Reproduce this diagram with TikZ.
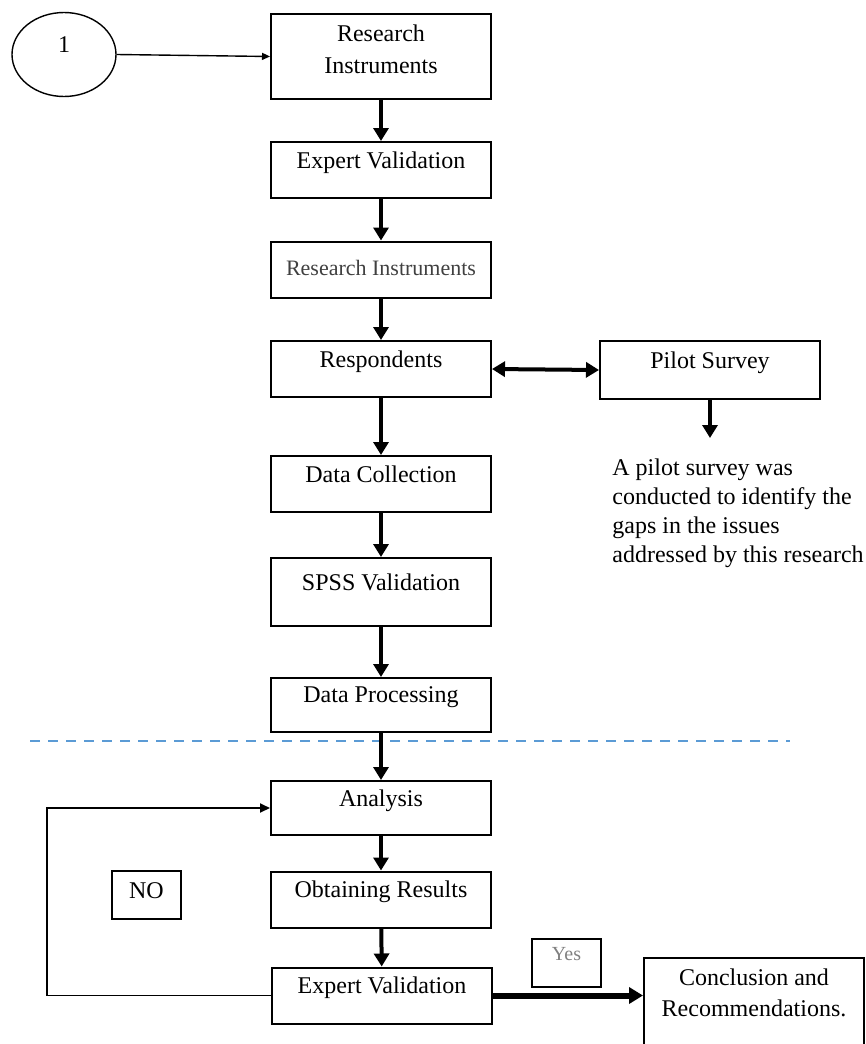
\documentclass[tikz,border=0pt]{standalone}
\usepackage{fontspec}
\setmainfont{Liberation Serif}
\usepackage{pgf,tikz}
\usetikzlibrary{%
  arrows.meta,
  shapes.geometric
}
\definecolor{tiret}{RGB}{91,155,213}

\begin{document}
\begin{tikzpicture}[
  x=0.5pt, y=-0.5pt,
  >={Triangle[length=6.5pt, width=7.5pt]},
  etape/.style={draw, line width=1pt, minimum width=110pt, minimum height=28pt,
                text depth=10pt, align=center, font=\fontsize{12}{16}\selectfont},
  etiquette/.style={draw, line width=0.8pt, minimum width=34.5pt, minimum height=24pt},
  fleche/.style={->, line width=2pt},
  fin/.style={-{Triangle[length=4pt, width=3.5pt]}, line width=0.7pt},
]
  \useasboundingbox (0.0, 0.0) rectangle (866.0, 1044.0) ;
  \clip (0.0, 0.0) rectangle (866.0, 1044.0) ;

  % ligne de separation
  \draw [tiret, line width=1pt, dash pattern=on 5pt off 4pt]
        (30.0, 741.0) -- (790.0, 741.0) ;

  % depart
  \node (depart) [ellipse, draw, line width=0.7pt, minimum width=52pt,
                  minimum height=42pt, text depth=10pt,
                  font=\fontsize{12}{14}\selectfont] at (64.0, 54.5) {1} ;

  % colonne principale
  \node (instr1) [etape, minimum height=42.5pt, text depth=7pt] at (381.0, 56.5)
        {Research\\Instruments} ;
  \node (valid1) [etape] at (381.0, 170.0) {Expert Validation} ;
  \node (instr2) [etape, text depth=2pt, text=darkgray,
                  font=\fontsize{11}{13}\selectfont] at (381.0, 269.5)
        {Research Instruments} ;
  \node (resp) [etape] at (381.0, 369.0) {Respondents} ;
  \node (collecte) [etape] at (381.0, 484.0) {Data Collection} ;
  \node (spss) [etape, minimum height=34pt] at (381.0, 592.0) {SPSS Validation} ;
  \node (traitement) [etape, minimum height=27pt] at (381.0, 705.0) {Data Processing} ;
  \node (analyse) [etape, minimum height=27pt] at (381.0, 808.0) {Analysis} ;
  \node (resultats) [etape] at (381.0, 899.5) {Obtaining Results} ;
  \node (valid2) [etape] at (382.0, 995.5) {Expert Validation} ;

  % enquete pilote
  \node (pilote) [etape, minimum height=29pt] at (710.0, 370.0) {Pilot Survey} ;
  \node (note) [anchor=north west, inner sep=0pt, align=left,
                font=\fontsize{12}{14.5}\selectfont] at (612.0, 458.0)
        {A pilot survey was\\conducted to identify the\\gaps in the issues\\addressed by this research} ;
  \coordinate (piedpilote) at (710.0, 438.0) ;

  % sortie
  \node (conclusion) [etape, anchor=north, inner ysep=5.5pt, text depth=40pt,
                      font=\fontsize{12}{15.5}\selectfont] at (754.0, 957.0)
        {Conclusion and\\Recommendations.} ;

  % etiquettes
  \node (non) [etiquette, text depth=4pt, font=\fontsize{12}{14}\selectfont]
        at (146.5, 895.0) {NO} ;
  \node (oui) [etiquette, text depth=9pt, text=gray,
               font=\fontsize{10}{12}\selectfont] at (566.5, 963.0) {Yes} ;
  \coordinate (retour) at (47.0, 900.0) ;

  % fleches
  \draw [fin] (depart.east) -- (instr1.west) ;
  \foreach \a/\b in {instr1/valid1, valid1/instr2, instr2/resp, resp/collecte,
                     collecte/spss, spss/traitement, traitement/analyse,
                     analyse/resultats, resultats/valid2} {
    \draw [fleche] (\a) -- (\b) ;
  }
  \draw [<->, line width=2pt] (resp.east) -- (pilote.west) ;
  \draw [fleche] (pilote.south) -- (piedpilote) ;
  \draw [-{Triangle[length=5pt, width=4.5pt]}, line width=0.9pt]
        (valid2.west) -| (retour) |- (analyse.west) ;
  \draw [-{Triangle[length=7pt, width=8pt]}, line width=3pt]
        (valid2.east) -- (valid2.east -| conclusion.west) ;

\end{tikzpicture}
\end{document}
